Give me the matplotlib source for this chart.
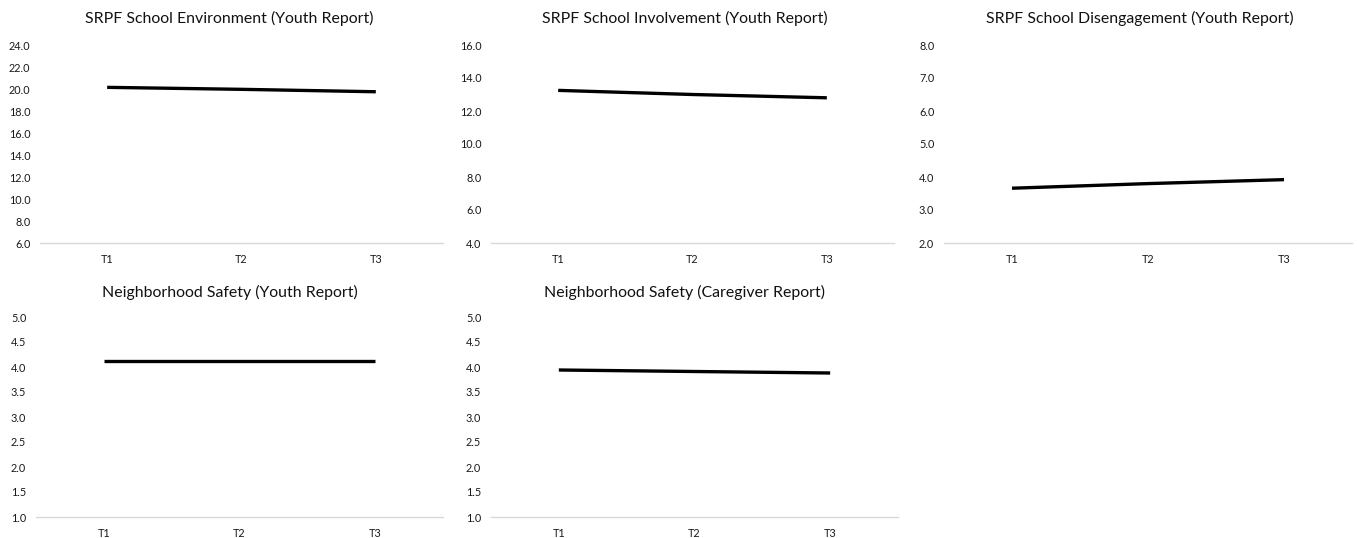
import matplotlib
matplotlib.use("Agg")
import matplotlib.pyplot as plt

plt.rcParams['font.family'] = ['Lato', 'DejaVu Sans']

waves = ['T1', 'T2', 'T3']

school_env = [20.15, 19.97, 19.75]
school_inv = [13.25, 13.0, 12.8]
school_dis = [3.66, 3.80, 3.92]
safety_youth = [4.13, 4.13, 4.13]
safety_care = [3.94, 3.91, 3.88]

titles = ['SRPF School Environment (Youth Report)',
          'SRPF School Involvement (Youth Report)',
          'SRPF School Disengagement (Youth Report)',
          'Neighborhood Safety (Youth Report)',
          'Neighborhood Safety (Caregiver Report)']
series = [school_env, school_inv, school_dis, safety_youth, safety_care]
y_ranges = [(6, 24, 2), (4, 16, 2), (2, 8, 1), (1, 5, 0.5), (1, 5, 0.5)]

W, H = 1357, 538
# axes boxes in pixels: left, right, top, bottom ; title centre x, y
boxes = [(40, 443, 45, 243), (491, 894, 45, 243), (944, 1352, 45, 243),
         (36, 443, 317, 517), (491, 898, 317, 517)]
title_pos = [(229, 18), (685, 18), (1140, 18), (230, 292), (685, 292)]

fig = plt.figure(figsize=(W / 100, H / 100), dpi=100)

for i in range(5):
    l, r, t, b = boxes[i]
    ax = fig.add_axes([l / W, 1 - b / H, (r - l) / W, (b - t) / H])
    lo, hi, step = y_ranges[i]
    ax.plot(range(3), series[i], color='black', linewidth=2.4,
            solid_capstyle='butt')
    ax.set_xlim(-0.5, 2.5)
    ax.set_ylim(lo, hi)
    n = int(round((hi - lo) / step))
    ticks = [lo + k * step for k in range(n + 1)]
    ax.set_yticks(ticks)
    ax.set_yticklabels(['%.1f' % v for v in ticks])
    ax.set_xticks(range(3))
    ax.set_xticklabels(waves)
    for s in ['top', 'right', 'left']:
        ax.spines[s].set_visible(False)
    ax.spines['bottom'].set_color('#d9d9d9')
    ax.spines['bottom'].set_linewidth(1.0)
    ax.tick_params(axis='both', length=0, labelsize=7.8, colors='#1a1a1a')
    ax.tick_params(axis='y', pad=7)
    ax.tick_params(axis='x', pad=8)
    fig.text(title_pos[i][0] / W, 1 - title_pos[i][1] / H, titles[i],
             ha='center', va='center', fontsize=11.4, color='#111111')

fig.savefig('out.png', dpi=100)
